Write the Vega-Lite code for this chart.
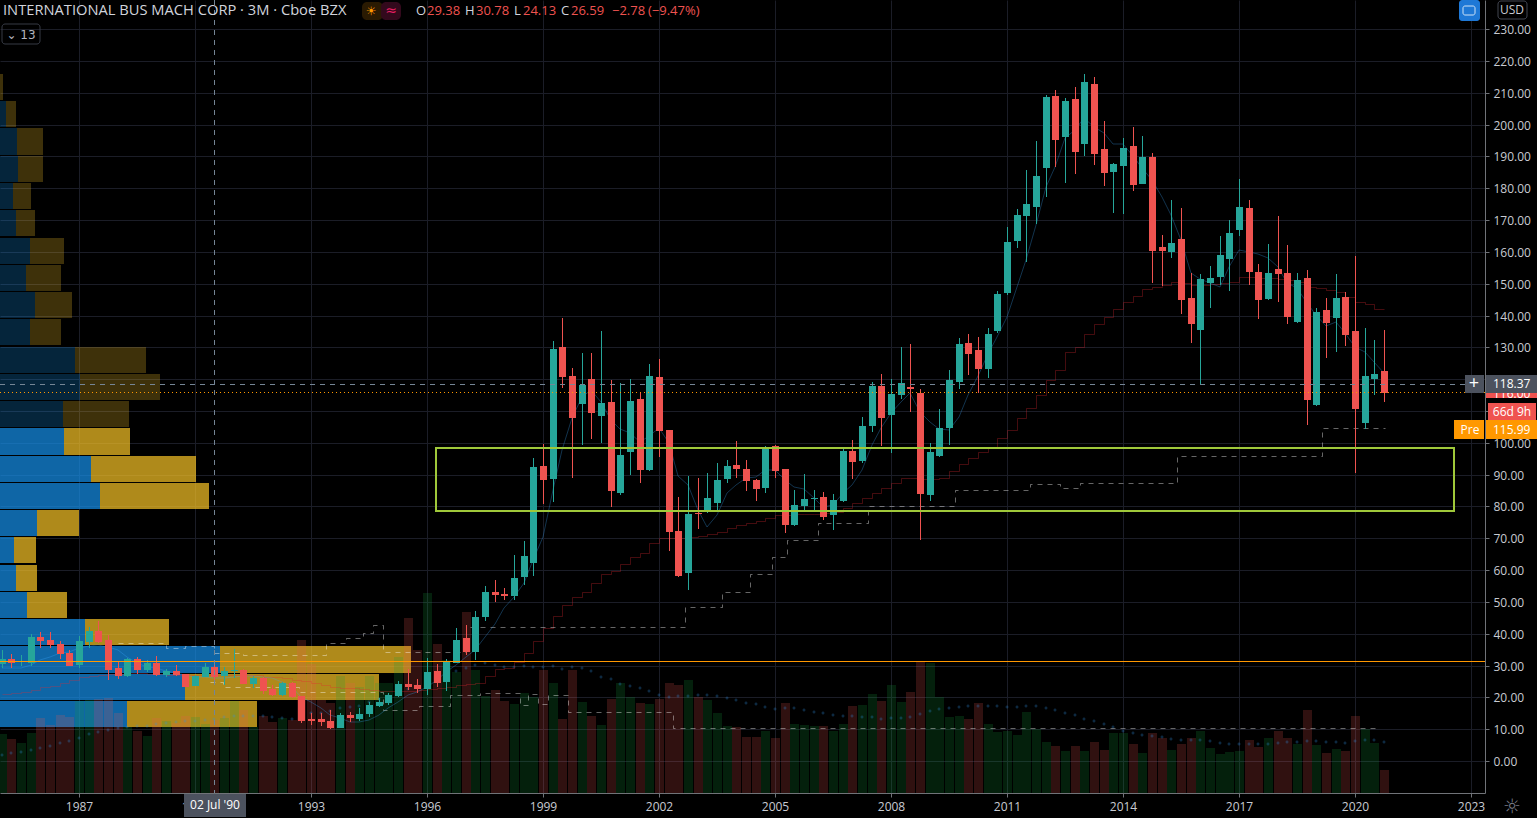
{"$schema":"https://vega.github.io/schema/vega-lite/v6.json","autosize":{"type":"none"},"padding":{"left":0,"top":0,"right":52,"bottom":25},"width":1485,"height":793,"background":"#000000","config":{"view":{"stroke":null},"text":{"font":"Open Sans"},"scale":{"continuousPadding":0}},
"datasets":{
"candles":[
{"t":1985,"o":30.5,"h":34.9,"l":29.1,"c":32.06,"v":59,"vm":38,"ma":29.1,"sma":21.05},
{"t":1985.25,"o":31.95,"h":33.6,"l":29.3,"c":30.8,"v":54,"vm":40,"ma":29.3,"sma":21.5},
{"t":1985.5,"o":31,"h":33.3,"l":30,"c":31.3,"v":50,"vm":41,"ma":29.3,"sma":21.8},
{"t":1985.75,"o":30.8,"h":39.9,"l":30,"c":39,"v":60,"vm":43,"ma":30.2,"sma":22.3},
{"t":1986,"o":39,"h":40.5,"l":35.6,"c":37.8,"v":75,"vm":45,"ma":31.7,"sma":23.2},
{"t":1986.25,"o":38,"h":40.5,"l":35.6,"c":36.5,"v":68,"vm":47,"ma":32.8,"sma":23.6},
{"t":1986.5,"o":36.7,"h":37.6,"l":32.1,"c":33.6,"v":78,"vm":50,"ma":33.8,"sma":24.4},
{"t":1986.75,"o":33.9,"h":34.9,"l":29.9,"c":29.86,"v":76,"vm":52,"ma":34.4,"sma":25.5},
{"t":1987,"o":30.2,"h":39.3,"l":29.1,"c":37.7,"v":92,"vm":55,"ma":35.4,"sma":26.3},
{"t":1987.25,"o":37.4,"h":42.2,"l":35.6,"c":40.75,"v":93,"vm":59,"ma":36.1,"sma":26.7},
{"t":1987.5,"o":40.75,"h":44,"l":37.2,"c":37.4,"v":94,"vm":61,"ma":36.5,"sma":27},
{"t":1987.75,"o":38,"h":39.6,"l":25.5,"c":28.6,"v":95,"vm":63,"ma":35.9,"sma":27.3},
{"t":1988,"o":29.2,"h":31.1,"l":25.8,"c":26.7,"v":80,"vm":65,"ma":34.9,"sma":27.3},
{"t":1988.25,"o":26.7,"h":32.3,"l":26.3,"c":32.06,"v":66,"vm":66,"ma":32.8,"sma":27.55},
{"t":1988.5,"o":32.06,"h":32.7,"l":27.3,"c":28.6,"v":62,"vm":67,"ma":30.7,"sma":27.55},
{"t":1988.75,"o":28.6,"h":31.7,"l":28.1,"c":30.8,"v":57,"vm":67,"ma":29.65,"sma":27.3},
{"t":1989,"o":30.8,"h":33,"l":26.7,"c":27,"v":75,"vm":69,"ma":29.1,"sma":27.3},
{"t":1989.25,"o":27,"h":28.9,"l":26.4,"c":28.3,"v":72,"vm":70,"ma":28.4,"sma":27.1},
{"t":1989.5,"o":28.3,"h":30.2,"l":26.7,"c":27,"v":70,"vm":71,"ma":27.8,"sma":27.1},
{"t":1989.75,"o":27.3,"h":27.3,"l":23.2,"c":23.3,"v":77,"vm":72,"ma":27,"sma":27.1},
{"t":1990,"o":23.6,"h":27,"l":23.6,"c":26.7,"v":76,"vm":72,"ma":26.5,"sma":27},
{"t":1990.25,"o":26.4,"h":30.7,"l":26.3,"c":29.5,"v":69,"vm":73,"ma":26.3,"sma":27},
{"t":1990.5,"o":29.5,"h":30.7,"l":23.9,"c":26.4,"v":73,"vm":74,"ma":26,"sma":27},
{"t":1990.75,"o":26.7,"h":29.65,"l":23.9,"c":28.3,"v":75,"vm":76,"ma":26,"sma":27},
{"t":1991,"o":28.2,"h":35.1,"l":26,"c":28.6,"v":92,"vm":77,"ma":26.3,"sma":27},
{"t":1991.25,"o":28.6,"h":28.8,"l":24.2,"c":24.2,"v":83,"vm":77,"ma":26.7,"sma":26.9},
{"t":1991.5,"o":24.2,"h":26.7,"l":23,"c":26.1,"v":66,"vm":77,"ma":26.7,"sma":26.9},
{"t":1991.75,"o":26.1,"h":26.3,"l":21,"c":21.9,"v":77,"vm":77,"ma":26.5,"sma":26.5},
{"t":1992,"o":22.5,"h":23.9,"l":20.5,"c":20.6,"v":71,"vm":76,"ma":26,"sma":26.3},
{"t":1992.25,"o":20.7,"h":24.7,"l":20.4,"c":24.4,"v":75,"vm":75,"ma":24.9,"sma":26},
{"t":1992.5,"o":24.4,"h":24.9,"l":19.7,"c":20,"v":73,"vm":74,"ma":23.4,"sma":25.5},
{"t":1992.75,"o":20.4,"h":20.4,"l":11.9,"c":12.6,"v":153,"vm":76,"ma":20.2,"sma":25.2},
{"t":1993,"o":13.2,"h":15,"l":11.3,"c":12.6,"v":129,"vm":80,"ma":18.6,"sma":24.4},
{"t":1993.25,"o":13.3,"h":15,"l":11,"c":12.2,"v":93,"vm":80,"ma":16.6,"sma":23.8},
{"t":1993.5,"o":12.6,"h":16,"l":10,"c":10.3,"v":90,"vm":82,"ma":14.5,"sma":23.4},
{"t":1993.75,"o":10.3,"h":15.2,"l":10.3,"c":14.5,"v":117,"vm":85,"ma":13.4,"sma":23.05},
{"t":1994,"o":14.5,"h":15.5,"l":12.4,"c":13.4,"v":110,"vm":86,"ma":12.4,"sma":22.8},
{"t":1994.25,"o":13.1,"h":16.5,"l":12.7,"c":14.8,"v":106,"vm":87,"ma":12.4,"sma":22.5},
{"t":1994.5,"o":14.8,"h":18.6,"l":13.7,"c":17.6,"v":117,"vm":91,"ma":12.9,"sma":22.3},
{"t":1994.75,"o":17.3,"h":19.7,"l":17.1,"c":18.5,"v":110,"vm":94,"ma":14.5,"sma":22},
{"t":1995,"o":18.2,"h":21.5,"l":17.6,"c":20.7,"v":110,"vm":97,"ma":16.6,"sma":21.9},
{"t":1995.25,"o":20.4,"h":25.1,"l":20.2,"c":24.2,"v":136,"vm":102,"ma":18.6,"sma":21.9},
{"t":1995.5,"o":24.2,"h":28.9,"l":22.3,"c":23.3,"v":175,"vm":104,"ma":20.7,"sma":22.1},
{"t":1995.75,"o":23.9,"h":25.8,"l":21.5,"c":22.6,"v":143,"vm":107,"ma":21.8,"sma":22.3},
{"t":1996,"o":22.6,"h":32.3,"l":20.7,"c":28,"v":200,"vm":112,"ma":23.4,"sma":22.5},
{"t":1996.25,"o":28.3,"h":30.5,"l":23.2,"c":24.5,"v":149,"vm":115,"ma":25.5,"sma":22.8},
{"t":1996.5,"o":24.8,"h":32,"l":22.1,"c":31.4,"v":133,"vm":118,"ma":28.1,"sma":23.2},
{"t":1996.75,"o":30.8,"h":41.7,"l":30.7,"c":38,"v":121,"vm":122,"ma":30.2,"sma":23.9},
{"t":1997,"o":38.7,"h":42.7,"l":33.3,"c":34.3,"v":181,"vm":125,"ma":32.8,"sma":24.2},
{"t":1997.25,"o":34.3,"h":47.1,"l":31.7,"c":45.15,"v":123,"vm":128,"ma":34.9,"sma":24.6},
{"t":1997.5,"o":45.3,"h":55,"l":44,"c":53.1,"v":97,"vm":130,"ma":39,"sma":26.8},
{"t":1997.75,"o":53.1,"h":56.9,"l":50,"c":52.2,"v":103,"vm":128,"ma":43,"sma":28.9},
{"t":1998,"o":52.5,"h":54.4,"l":50.5,"c":51.9,"v":92,"vm":126,"ma":48,"sma":29.2},
{"t":1998.25,"o":51.9,"h":64.7,"l":50.6,"c":57.5,"v":89,"vm":126,"ma":51.6,"sma":31.1},
{"t":1998.5,"o":57.8,"h":69.1,"l":55.3,"c":64.4,"v":100,"vm":127,"ma":55.8,"sma":33.9},
{"t":1998.75,"o":62.2,"h":95.2,"l":58.1,"c":92.4,"v":96,"vm":126,"ma":63.2,"sma":37.7},
{"t":1999,"o":92.7,"h":99.6,"l":80.8,"c":88.3,"v":123,"vm":126,"ma":70.5,"sma":41.8},
{"t":1999.25,"o":88.6,"h":132,"l":81.4,"c":129.5,"v":110,"vm":127,"ma":85.2,"sma":45.6},
{"t":1999.5,"o":130.1,"h":139.2,"l":117.2,"c":120.7,"v":74,"vm":124,"ma":97.7,"sma":49},
{"t":1999.75,"o":121,"h":123.5,"l":88.9,"c":107.8,"v":123,"vm":126,"ma":107.7,"sma":51.5},
{"t":2000,"o":112.2,"h":128.2,"l":99.3,"c":118.2,"v":91,"vm":125,"ma":114.5,"sma":53.2},
{"t":2000.25,"o":120,"h":128.2,"l":101.2,"c":109.4,"v":77,"vm":122,"ma":116.6,"sma":55.8},
{"t":2000.5,"o":108.4,"h":135.1,"l":99.9,"c":112.5,"v":68,"vm":116,"ma":112.9,"sma":58.7},
{"t":2000.75,"o":112.8,"h":119.7,"l":79.8,"c":84.9,"v":94,"vm":114,"ma":107.2,"sma":59.8},
{"t":2001,"o":84.2,"h":118.7,"l":83.6,"c":96.2,"v":110,"vm":109,"ma":104.2,"sma":61.8},
{"t":2001.25,"o":97.1,"h":119.9,"l":89.9,"c":113.1,"v":96,"vm":107,"ma":103,"sma":64.2},
{"t":2001.5,"o":113.8,"h":115.5,"l":87.4,"c":91.4,"v":90,"vm":105,"ma":100.4,"sma":65.5},
{"t":2001.75,"o":91.4,"h":124.8,"l":91.1,"c":121,"v":89,"vm":102,"ma":102,"sma":68.4},
{"t":2002,"o":120.7,"h":126.3,"l":95.5,"c":103.7,"v":94,"vm":98,"ma":104.5,"sma":70.2},
{"t":2002.25,"o":104,"h":104,"l":66,"c":72,"v":110,"vm":96,"ma":99.8,"sma":70.2},
{"t":2002.5,"o":72.3,"h":83,"l":57.8,"c":58.1,"v":108,"vm":97,"ma":89.6,"sma":70.2},
{"t":2002.75,"o":59.1,"h":89.6,"l":53.7,"c":77.6,"v":113,"vm":97,"ma":86.7,"sma":70.4},
{"t":2003,"o":78,"h":88.9,"l":72.9,"c":77.6,"v":96,"vm":98,"ma":78.9,"sma":70.7},
{"t":2003.25,"o":78.2,"h":90.4,"l":77.9,"c":82.6,"v":93,"vm":98,"ma":73.6,"sma":71.2},
{"t":2003.5,"o":81.1,"h":93.6,"l":78.9,"c":88.3,"v":80,"vm":97,"ma":77.3,"sma":71.9},
{"t":2003.75,"o":88.6,"h":94.6,"l":87.4,"c":92.7,"v":67,"vm":95,"ma":84.1,"sma":73.1},
{"t":2004,"o":93,"h":100.6,"l":88.9,"c":91.8,"v":66,"vm":93,"ma":86.7,"sma":74.1},
{"t":2004.25,"o":91.8,"h":94.6,"l":84.9,"c":88,"v":56,"vm":90,"ma":89,"sma":74.7},
{"t":2004.5,"o":88.3,"h":88.6,"l":81.7,"c":85.5,"v":56,"vm":89,"ma":89.4,"sma":75.3},
{"t":2004.75,"o":85.8,"h":99,"l":84.2,"c":98.4,"v":62,"vm":86,"ma":91.5,"sma":76.3},
{"t":2005,"o":99,"h":99.3,"l":88.9,"c":91.1,"v":55,"vm":84,"ma":91.5,"sma":77.2},
{"t":2005.25,"o":91.8,"h":91.8,"l":71.6,"c":74.2,"v":90,"vm":85,"ma":88.3,"sma":77.3},
{"t":2005.5,"o":74.2,"h":85.2,"l":73.9,"c":80.5,"v":69,"vm":85,"ma":86,"sma":77.5},
{"t":2005.75,"o":80.1,"h":90.2,"l":78.6,"c":82.3,"v":68,"vm":83,"ma":85.5,"sma":77.6},
{"t":2006,"o":82.3,"h":85.2,"l":78.9,"c":82.6,"v":67,"vm":81,"ma":82.5,"sma":77.6},
{"t":2006.25,"o":83,"h":84.5,"l":75.7,"c":76.7,"v":67,"vm":80,"ma":79.7,"sma":77.8},
{"t":2006.5,"o":77.3,"h":83.9,"l":72.6,"c":82,"v":62,"vm":78,"ma":80.5,"sma":78.4},
{"t":2006.75,"o":81.7,"h":98.3,"l":81.4,"c":97.4,"v":69,"vm":77,"ma":84.1,"sma":79.6},
{"t":2007,"o":97.4,"h":100.9,"l":88.6,"c":94,"v":87,"vm":77,"ma":86.7,"sma":81},
{"t":2007.25,"o":94.3,"h":108.1,"l":93.6,"c":105.3,"v":88,"vm":76,"ma":91.5,"sma":82.8},
{"t":2007.5,"o":105.3,"h":119.1,"l":103.4,"c":117.9,"v":99,"vm":76,"ma":99.3,"sma":84.1},
{"t":2007.75,"o":117.9,"h":121.6,"l":99,"c":107.8,"v":92,"vm":74,"ma":104.5,"sma":85.7},
{"t":2008,"o":108.7,"h":119.9,"l":96.8,"c":115.3,"v":108,"vm":75,"ma":109.3,"sma":87.3},
{"t":2008.25,"o":115,"h":130.1,"l":113.8,"c":118.8,"v":91,"vm":75,"ma":112.9,"sma":88.8},
{"t":2008.5,"o":117.5,"h":131,"l":109.7,"c":116.9,"v":101,"vm":76,"ma":115.5,"sma":88.8},
{"t":2008.75,"o":115.6,"h":116.8,"l":69.4,"c":83.9,"v":131,"vm":79,"ma":109.8,"sma":88.5},
{"t":2009,"o":83.6,"h":99.9,"l":81.7,"c":97.1,"v":130,"vm":82,"ma":106.6,"sma":88.5},
{"t":2009.25,"o":95.9,"h":110.6,"l":95.5,"c":104.6,"v":96,"vm":84,"ma":104.3,"sma":88.8},
{"t":2009.5,"o":104.6,"h":122.9,"l":99.3,"c":119.7,"v":76,"vm":85,"ma":104,"sma":91},
{"t":2009.75,"o":119.1,"h":132.9,"l":116.9,"c":131,"v":77,"vm":86,"ma":108,"sma":93.2},
{"t":2010,"o":131.4,"h":134.2,"l":121.3,"c":127.9,"v":74,"vm":87,"ma":115,"sma":95.2},
{"t":2010.25,"o":129.2,"h":133.2,"l":115.6,"c":123.2,"v":90,"vm":87,"ma":121,"sma":97.1},
{"t":2010.5,"o":123.2,"h":136.1,"l":120.3,"c":134.2,"v":69,"vm":87,"ma":128,"sma":98.7},
{"t":2010.75,"o":135.1,"h":147.7,"l":134.4,"c":146.8,"v":61,"vm":87,"ma":133.4,"sma":101.5},
{"t":2011,"o":147.1,"h":167.8,"l":146.4,"c":163.1,"v":62,"vm":86,"ma":139.6,"sma":104},
{"t":2011.25,"o":163.4,"h":173.5,"l":161.2,"c":171.6,"v":58,"vm":86,"ma":149.1,"sma":107.8},
{"t":2011.5,"o":171.3,"h":185.7,"l":156.8,"c":175,"v":81,"vm":87,"ma":157.4,"sma":110.9},
{"t":2011.75,"o":174.1,"h":194.8,"l":168.8,"c":183.8,"v":64,"vm":87,"ma":168.4,"sma":115},
{"t":2012,"o":186.4,"h":209.3,"l":177.2,"c":208.7,"v":51,"vm":85,"ma":180.5,"sma":119.7},
{"t":2012.25,"o":209,"h":210.9,"l":186.7,"c":195.2,"v":47,"vm":83,"ma":186.8,"sma":122.9},
{"t":2012.5,"o":196.1,"h":208.4,"l":181.7,"c":207.4,"v":42,"vm":80,"ma":195.7,"sma":128.5},
{"t":2012.75,"o":208,"h":211.8,"l":184.5,"c":191.4,"v":47,"vm":78,"ma":198.3,"sma":130.2},
{"t":2013,"o":193.9,"h":215.9,"l":190.1,"c":213.4,"v":42,"vm":74,"ma":202,"sma":134.2},
{"t":2013.25,"o":212.8,"h":215,"l":187.3,"c":190.8,"v":51,"vm":72,"ma":199.4,"sma":137.2},
{"t":2013.5,"o":192.3,"h":201.1,"l":180.7,"c":184.8,"v":43,"vm":69,"ma":197.3,"sma":139.6},
{"t":2013.75,"o":185.1,"h":187.9,"l":172.2,"c":187.6,"v":60,"vm":66,"ma":193.8,"sma":141.9},
{"t":2014,"o":187,"h":195.8,"l":171.9,"c":192.6,"v":60,"vm":62,"ma":193.8,"sma":144.4},
{"t":2014.25,"o":193.3,"h":199.2,"l":179.1,"c":181,"v":49,"vm":60,"ma":190,"sma":146.2},
{"t":2014.5,"o":181.3,"h":196.4,"l":181.3,"c":189.8,"v":40,"vm":58,"ma":186.3,"sma":148.4},
{"t":2014.75,"o":189.8,"h":191.1,"l":150.2,"c":160.3,"v":60,"vm":57,"ma":182.6,"sma":149},
{"t":2015,"o":161.5,"h":165.3,"l":149.3,"c":160.3,"v":55,"vm":56,"ma":177.4,"sma":149.6},
{"t":2015.25,"o":160,"h":176.3,"l":158.1,"c":162.8,"v":43,"vm":54,"ma":171.6,"sma":150.4},
{"t":2015.5,"o":164.1,"h":173.8,"l":140.5,"c":144.9,"v":49,"vm":53,"ma":163.7,"sma":150.1},
{"t":2015.75,"o":145.5,"h":153.3,"l":131.4,"c":137.3,"v":55,"vm":53,"ma":153.3,"sma":149.6},
{"t":2016,"o":135.4,"h":153,"l":118.6,"c":151.5,"v":62,"vm":53,"ma":151.4,"sma":149.6},
{"t":2016.25,"o":150.1,"h":155.6,"l":142.4,"c":151.8,"v":45,"vm":52,"ma":150.1,"sma":149.9},
{"t":2016.5,"o":152.1,"h":165,"l":149.6,"c":159,"v":39,"vm":50,"ma":149.1,"sma":150.1},
{"t":2016.75,"o":157.8,"h":170,"l":147.7,"c":165.9,"v":41,"vm":49,"ma":155.4,"sma":150.6},
{"t":2017,"o":166.9,"h":182.9,"l":165,"c":174.1,"v":42,"vm":49,"ma":160.6,"sma":152},
{"t":2017.25,"o":173.8,"h":176.3,"l":149.6,"c":153.7,"v":53,"vm":49,"ma":160.1,"sma":152},
{"t":2017.5,"o":153.7,"h":156.2,"l":138.9,"c":144.9,"v":46,"vm":49,"ma":159.3,"sma":151.7},
{"t":2017.75,"o":145.2,"h":162.5,"l":144.9,"c":153.4,"v":55,"vm":49,"ma":158,"sma":151.7},
{"t":2018,"o":154.6,"h":171.3,"l":144.3,"c":153,"v":62,"vm":50,"ma":155.4,"sma":151.4},
{"t":2018.25,"o":153.4,"h":162.2,"l":137.3,"c":139.5,"v":55,"vm":51,"ma":150.1,"sma":151.2},
{"t":2018.5,"o":138,"h":153.4,"l":137.6,"c":151.2,"v":49,"vm":51,"ma":148.5,"sma":150.6},
{"t":2018.75,"o":151.8,"h":154.3,"l":105.6,"c":113.4,"v":83,"vm":52,"ma":143.8,"sma":149},
{"t":2019,"o":111.9,"h":142.4,"l":111.6,"c":141.1,"v":48,"vm":52,"ma":140.2,"sma":148.5},
{"t":2019.25,"o":141.7,"h":145.5,"l":126.7,"c":137.6,"v":40,"vm":51,"ma":136.8,"sma":148},
{"t":2019.5,"o":139.2,"h":153,"l":128.5,"c":145.5,"v":44,"vm":51,"ma":137.9,"sma":147.5},
{"t":2019.75,"o":145.8,"h":147.4,"l":130.4,"c":133.9,"v":42,"vm":50,"ma":134.4,"sma":145.7},
{"t":2020,"o":135.1,"h":158.7,"l":90.5,"c":110.6,"v":77,"vm":52,"ma":130.2,"sma":144.4},
{"t":2020.25,"o":106.2,"h":136.1,"l":104.3,"c":121,"v":64,"vm":53,"ma":128.6,"sma":143.6},
{"t":2020.5,"o":120,"h":132.3,"l":115,"c":121.6,"v":50,"vm":53,"ma":125.5,"sma":142},
{"t":2020.75,"o":122.6,"h":135.5,"l":112.8,"c":115.6,"v":23,"vm":51,"ma":121.8,"sma":142}
],
"profile":[
{"base":0,"hi":215.9,"lo":207.7,"up":0,"total":3,"dim":true},
{"base":0,"hi":207.3,"lo":199.1,"up":6,"total":16,"dim":true},
{"base":0,"hi":198.8,"lo":190.6,"up":17,"total":43,"dim":true},
{"base":0,"hi":190.2,"lo":182,"up":18,"total":43,"dim":true},
{"base":0,"hi":181.6,"lo":173.4,"up":13,"total":31,"dim":true},
{"base":0,"hi":173.1,"lo":164.9,"up":16,"total":35,"dim":true},
{"base":0,"hi":164.5,"lo":156.3,"up":30,"total":64,"dim":true},
{"base":0,"hi":155.9,"lo":147.7,"up":26,"total":61,"dim":true},
{"base":0,"hi":147.4,"lo":139.2,"up":35,"total":72,"dim":true},
{"base":0,"hi":138.8,"lo":130.6,"up":30,"total":61,"dim":true},
{"base":0,"hi":130.2,"lo":122,"up":75,"total":146,"dim":true},
{"base":0,"hi":121.7,"lo":113.5,"up":80,"total":160,"dim":true},
{"base":0,"hi":113.1,"lo":104.9,"up":63,"total":129,"dim":true},
{"base":0,"hi":104.5,"lo":96.3,"up":64,"total":130,"dim":false},
{"base":0,"hi":96,"lo":87.8,"up":91,"total":196,"dim":false},
{"base":0,"hi":87.4,"lo":79.2,"up":100,"total":209,"dim":false},
{"base":0,"hi":78.8,"lo":70.6,"up":37,"total":79,"dim":false},
{"base":0,"hi":70.3,"lo":62.1,"up":14,"total":36,"dim":false},
{"base":0,"hi":61.7,"lo":53.5,"up":16,"total":37,"dim":false},
{"base":0,"hi":53.1,"lo":44.9,"up":27,"total":67,"dim":false},
{"base":0,"hi":44.6,"lo":36.4,"up":85,"total":169,"dim":false},
{"base":0,"hi":36,"lo":27.8,"up":220,"total":411,"dim":false},
{"base":0,"hi":27.4,"lo":19.2,"up":185,"total":379,"dim":false},
{"base":0,"hi":18.9,"lo":10.7,"up":127,"total":257,"dim":false}
],
"stopUpper":[
{"t":1988,"p":37.08},{"t":1989.25,"p":35.5},{"t":1989.75,"p":36.1},{"t":1990.5,"p":33.9},{"t":1991.25,"p":33.3},{"t":1993.4,"p":37.1},{"t":1993.9,"p":38.7},{"t":1994.35,"p":40.2},{"t":1994.6,"p":42.7},{"t":1994.86,"p":34.2},{"t":1997,"p":42.1},{"t":2002.67,"p":48.4},{"t":2003.63,"p":53.1},{"t":2004.35,"p":58.8},{"t":2004.92,"p":64.1},{"t":2005.3,"p":69.5},{"t":2006.1,"p":74.8},{"t":2007.4,"p":80.1},{"t":2009.65,"p":85.2},{"t":2011.6,"p":87},{"t":2012.37,"p":85.8},{"t":2012.89,"p":87.4},{"t":2015.4,"p":95.9},{"t":2019.15,"p":104.7},{"t":2020.78,"p":104.7}
],
"stopLower":[
{"t":1990.39,"p":24.8},{"t":1990.72,"p":23.3},{"t":1992.7,"p":21.7},{"t":1994.86,"p":16},{"t":1995.8,"p":17.3},{"t":1996.6,"p":20.7},{"t":1997.37,"p":21.3},{"t":1998.4,"p":17.6},{"t":1998.6,"p":21},{"t":1998.87,"p":17.9},{"t":1999.13,"p":20.7},{"t":1999.65,"p":15.4},{"t":2002.36,"p":10.4},{"t":2020.65,"p":10.4}
]},
"layer":[
{"data":{"name":"candles"},"mark":{"type":"point","opacity":0},"encoding":{
   "x":{"field":"t","type":"quantitative","scale":{"domain":[1984.957,2023.362],"round":true},"axis":{"orient":"bottom","title":null,"values":[1987,1990,1993,1996,1999,2002,2005,2008,2011,2014,2017,2020,2023],"format":"d","grid":true,"gridColor":"#1b1d27","gridWidth":1,"domainColor":"#707378","tickColor":"#707378","tickSize":4,"labelColor":"#c8cbd2","labelFont":"Open Sans","labelFontSize":12,"labelPadding":4,"labelOverlap":false,"labelFlush":false,"labelBound":false}},
   "y":{"field":"l","type":"quantitative","scale":{"domain":[-10.06,239.16],"round":true},"axis":{"orient":"right","title":null,"values":[0,10,20,30,40,50,60,70,80,90,100,110,120,130,140,150,160,170,180,190,200,210,220,230],"format":".2f","grid":true,"gridColor":"#1b1d27","gridWidth":1,"domainColor":"#707378","tickColor":"#707378","tickSize":4,"labelColor":"#c8cbd2","labelFont":"Open Sans","labelFontSize":12,"labelPadding":4,"labelOverlap":false,"labelFlush":false,"labelBound":false}}}},
{"data":{"name":"profile"},"layer":[
 {"mark":{"type":"rect"},"encoding":{"x":{"field":"base","type":"quantitative","scale":{"domain":[0,1485]},"axis":null},"x2":{"field":"up"},"y":{"field":"lo","type":"quantitative","scale":{"domain":[-10.06,239.16],"round":true},"axis":null},"y2":{"field":"hi"},"color":{"condition":{"test":"datum.dim","value":"rgba(21,146,236,0.25)"},"value":"rgba(21,146,236,0.7)"}}},
 {"mark":{"type":"rect"},"encoding":{"x":{"field":"up","type":"quantitative","scale":{"domain":[0,1485]},"axis":null},"x2":{"field":"total"},"y":{"field":"lo","type":"quantitative","scale":{"domain":[-10.06,239.16],"round":true},"axis":null},"y2":{"field":"hi"},"color":{"condition":{"test":"datum.dim","value":"rgba(249,197,39,0.25)"},"value":"rgba(249,197,39,0.7)"}}}
]},
{"data":{"name":"candles"},"layer":[
 {"mark":{"type":"bar","size":9,"orient":"vertical","xOffset":0.5},"encoding":{"x":{"field":"t","type":"quantitative","scale":{"domain":[1984.957,2023.362],"round":true},"axis":null},"y":{"field":"v","type":"quantitative","stack":null,"scale":{"domain":[0,793],"round":true},"axis":null},"color":{"condition":{"test":"datum.c>=datum.o","value":"rgba(20,160,60,0.2)"},"value":"rgba(239,83,80,0.2)"}}},
 {"mark":{"type":"point","shape":"cross","filled":true,"size":9,"color":"rgba(50,150,235,0.35)","opacity":1},"encoding":{"x":{"field":"t","type":"quantitative","scale":{"domain":[1984.957,2023.362],"round":true},"axis":null},"y":{"field":"vm","type":"quantitative","scale":{"domain":[0,793],"round":true},"axis":null}}}
]},
{"encoding":{"x":{"field":"t","type":"quantitative","scale":{"domain":[1984.957,2023.362],"round":true},"axis":null},"y":{"field":"p","type":"quantitative","scale":{"domain":[-10.06,239.16],"round":true},"axis":null}},"layer":[
 {"data":{"name":"candles"},"mark":{"type":"line","color":"rgba(230,40,50,0.3)","strokeWidth":1,"interpolate":"step-after","xOffset":0.5,"yOffset":0.5},"encoding":{"y":{"field":"sma","type":"quantitative","scale":{"domain":[-10.06,239.16],"round":true},"axis":null}}},
 {"data":{"name":"stopUpper"},"mark":{"type":"line","color":"rgba(255,255,255,0.4)","strokeWidth":1,"strokeDash":[5,5],"interpolate":"step-after","xOffset":0.5,"yOffset":0.5}},
 {"data":{"name":"stopLower"},"mark":{"type":"line","color":"rgba(255,255,255,0.4)","strokeWidth":1,"strokeDash":[5,5],"interpolate":"step-after","xOffset":0.5,"yOffset":0.5}},
 {"data":{"name":"candles"},"mark":{"type":"line","color":"rgba(60,170,255,0.3)","strokeWidth":1},"encoding":{"y":{"field":"ma","type":"quantitative","scale":{"domain":[-10.06,239.16],"round":true},"axis":null}}},
 {"data":{"name":"candles"},"mark":{"type":"rule","strokeWidth":1,"xOffset":0.5},"encoding":{"y":{"field":"l","type":"quantitative","scale":{"domain":[-10.06,239.16],"round":true},"axis":null},"y2":{"field":"h"},"color":{"condition":{"test":"datum.c>=datum.o","value":"#26a69a"},"value":"#ef5350"}}},
 {"data":{"name":"candles"},"mark":{"type":"bar","size":7,"orient":"vertical","xOffset":0.5},"encoding":{"y":{"field":"o","type":"quantitative","scale":{"domain":[-10.06,239.16],"round":true},"axis":null},"y2":{"field":"c"},"color":{"condition":{"test":"datum.c>=datum.o","value":"#26a69a"},"value":"#ef5350"}}},
 {"data":{"values":[{"t":1984.957,"t2":2023.362,"p":31.4,"p2":31.08}]},"mark":{"type":"rect","fill":"#ff9800"},"encoding":{"x2":{"field":"t2"},"y2":{"field":"p2"}}},
 {"data":{"values":[{"t":1984.957,"t2":2023.362,"p":115.99}]},"mark":{"type":"rule","color":"#ff9800","strokeWidth":1,"strokeDash":[1,3],"yOffset":0.5},"encoding":{"x2":{"field":"t2"}}},
 {"data":{"values":[{"t":1984.957,"t2":2022.845,"p":118.37}]},"mark":{"type":"rule","color":"#758696","strokeWidth":1,"strokeDash":[5,5],"yOffset":0.5},"encoding":{"x2":{"field":"t2"}}},
 {"data":{"values":[{"t":1990.49,"p":239.16,"p2":-10.06}]},"mark":{"type":"rule","color":"#758696","strokeWidth":1,"strokeDash":[5,5],"xOffset":0.5},"encoding":{"y2":{"field":"p2"}}},
 {"data":{"values":[{"t":1996.23,"t2":2022.56,"p":98.4,"p2":78.6}]},"mark":{"type":"rect","fill":"rgba(0,0,0,0)","stroke":"#9fc83a","strokeWidth":2},"encoding":{"x2":{"field":"t2"},"y2":{"field":"p2"}}},
 {"data":{"values":[{"t":2023.388,"t2":2024.707,"p":118.16,"p2":114.08},{"t":2023.44,"t2":2024.681,"p":112.51,"p2":107.17}]},"mark":{"type":"rect","fill":"#ef5350"},"encoding":{"x2":{"field":"t2"},"y2":{"field":"p2"}}},
 {"data":{"values":[{"t":2023.569,"p":115.34,"label":"116.00"}]},"mark":{"type":"text","align":"left","baseline":"middle","fontSize":12,"color":"#ffffff"},"encoding":{"text":{"field":"label"}}},
 {"data":{"values":[{"t":2022.56,"t2":2023.336,"p":107.17,"p2":101.2},{"t":2023.388,"t2":2024.707,"p":107.17,"p2":101.2}]},"mark":{"type":"rect","fill":"#ff9800"},"encoding":{"x2":{"field":"t2"},"y2":{"field":"p2"}}},
 {"data":{"values":[{"t":2022.845,"t2":2023.336,"p":121.31,"p2":115.65},{"t":2023.388,"t2":2024.707,"p":121.31,"p2":115.65},{"t":1989.716,"t2":1991.32,"p":-10.37,"p2":-17.6}]},"mark":{"type":"rect","fill":"#4c525e"},"encoding":{"x2":{"field":"t2"},"y2":{"field":"p2"}}},
 {"data":{"values":[{"t":2023.569,"p":118.48,"label":"118.37"},{"t":2023.569,"p":104.02,"label":"115.99"}]},"mark":{"type":"text","align":"left","baseline":"middle","fontSize":12,"color":"#ffffff"},"encoding":{"text":{"field":"label"}}},
 {"data":{"values":[{"t":2024.06,"p":109.68,"label":"66d 9h"},{"t":2022.974,"p":104.02,"label":"Pre"},{"t":1990.517,"p":-13.83,"label":"02 Jul '90"}]},"mark":{"type":"text","align":"center","baseline":"middle","fontSize":12,"color":"#ffffff"},"encoding":{"text":{"field":"label"}}},
 {"data":{"values":[{"t":2023.09,"p":118.48,"label":"+"}]},"mark":{"type":"text","align":"center","baseline":"middle","fontSize":18,"color":"#ffffff"},"encoding":{"text":{"field":"label"}}},
 {"data":{"values":[{"t":2023.698,"t2":2024.448,"p":238.85,"p2":233.19}]},"mark":{"type":"rect","fill":"rgba(0,0,0,0)","stroke":"#434651","cornerRadius":3},"encoding":{"x2":{"field":"t2"},"y2":{"field":"p2"}}},
 {"data":{"values":[{"t":2024.07,"p":236.02,"label":"USD"}]},"mark":{"type":"text","align":"center","baseline":"middle","fontSize":12,"color":"#c8cbd2"},"encoding":{"text":{"field":"label"}}},
 {"data":{"values":[{"t":2022.69,"t2":2023.233,"p":239.16,"p2":232.56}]},"mark":{"type":"rect","fill":"#1e78d6","cornerRadius":3},"encoding":{"x2":{"field":"t2"},"y2":{"field":"p2"}}},
 {"data":{"values":[{"t":2022.793,"t2":2023.103,"p":237.27,"p2":234.45}]},"mark":{"type":"rect","fill":"rgba(0,0,0,0)","stroke":"#cfe3f7","cornerRadius":2},"encoding":{"x2":{"field":"t2"},"y2":{"field":"p2"}}},
 {"data":{"values":[{"t":2024.06,"p":-14.46,"label":"☼"}]},"mark":{"type":"text","align":"center","baseline":"middle","fontSize":20,"font":"DejaVu Sans","color":"#787b86"},"encoding":{"text":{"field":"label"}}},
 {"data":{"values":[{"t":1985.035,"p":235.7,"label":"INTERNATIONAL BUS MACH CORP · 3M · Cboe BZX"}]},"mark":{"type":"text","align":"left","baseline":"middle","fontSize":14.7,"color":"#d1d4dc"},"encoding":{"text":{"field":"label"}}},
 {"data":{"values":[{"t":1995.716,"p":235.7,"label":"O"},{"t":1996.983,"p":235.7,"label":"H"},{"t":1998.25,"p":235.7,"label":"L"},{"t":1999.466,"p":235.7,"label":"C"}]},"mark":{"type":"text","align":"left","baseline":"middle","fontSize":13,"color":"#d1d4dc"},"encoding":{"text":{"field":"label"}}},
 {"data":{"values":[{"t":1996,"p":235.7,"label":"29.38"},{"t":1997.267,"p":235.7,"label":"30.78"},{"t":1998.483,"p":235.7,"label":"24.13"},{"t":1999.724,"p":235.7,"label":"26.59"},{"t":2000.785,"p":235.7,"label":"−2.78"},{"t":2001.716,"p":235.7,"label":"(−9.47%)"}]},"mark":{"type":"text","align":"left","baseline":"middle","fontSize":13,"color":"#ef5350"},"encoding":{"text":{"field":"label"}}},
 {"data":{"values":[{"t":1994.319,"t2":1994.85,"p":238.53,"p2":232.87}]},"mark":{"type":"rect","fill":"#2a1a02","cornerRadius":5},"encoding":{"x2":{"field":"t2"},"y2":{"field":"p2"}}},
 {"data":{"values":[{"t":1994.81,"t2":1995.327,"p":238.53,"p2":232.87}]},"mark":{"type":"rect","fill":"#33091c","cornerRadius":5},"encoding":{"x2":{"field":"t2"},"y2":{"field":"p2"}}},
 {"data":{"values":[{"t":1994.55,"p":235.7,"label":"☀"}]},"mark":{"type":"text","align":"center","baseline":"middle","fontSize":12,"font":"DejaVu Sans","color":"#ff9800"},"encoding":{"text":{"field":"label"}}},
 {"data":{"values":[{"t":1995.07,"p":235.7,"label":"≈"}]},"mark":{"type":"text","align":"center","baseline":"middle","fontSize":14,"font":"DejaVu Sans","color":"#e91e63"},"encoding":{"text":{"field":"label"}}},
 {"data":{"values":[{"t":1985.009,"t2":1985.99,"p":231.62,"p2":225.33}]},"mark":{"type":"rect","fill":"rgba(0,0,0,0)","stroke":"#363a45","cornerRadius":3},"encoding":{"x2":{"field":"t2"},"y2":{"field":"p2"}}},
 {"data":{"values":[{"t":1985.5,"p":228.3,"label":"⌄ 13"}]},"mark":{"type":"text","align":"center","baseline":"middle","fontSize":12,"font":"DejaVu Sans","color":"#b2b5be"},"encoding":{"text":{"field":"label"}}}
]}
],
"resolve":{"scale":{"x":"independent","y":"independent"}}}
